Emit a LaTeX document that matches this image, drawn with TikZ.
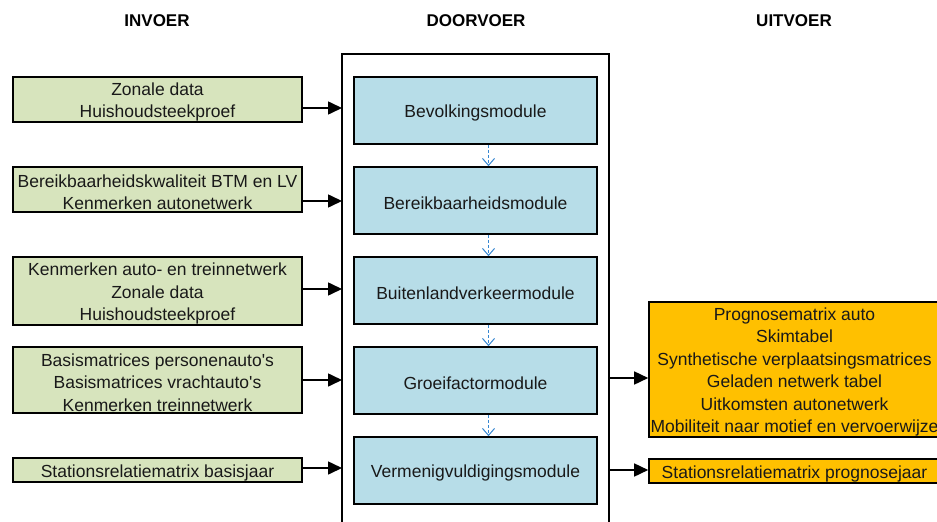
\documentclass[tikz,border=0pt]{standalone}
\usepackage{fontspec}
\setmainfont{Liberation Sans}
\usetikzlibrary{arrows.meta}
\definecolor{ingreen}{RGB}{215,228,189}
\definecolor{modblue}{RGB}{183,221,232}
\definecolor{outorange}{RGB}{255,192,0}
\definecolor{dashblue}{RGB}{55,135,210}
\newcommand{\firstline}{\rule{0pt}{17.8pt}}
\tikzset{
  txt/.style={font=\fontsize{17.5}{22.4}\selectfont, align=center, inner sep=0pt, text=black!90,
    execute at begin node={\firstline}},
  inbox/.style={txt, draw=black, line width=1.6pt, fill=ingreen, minimum width=289pt},
  modbox/.style={txt, draw=black, line width=1.6pt, fill=modblue, minimum width=243pt, minimum height=67pt},
  outbox/.style={txt, draw=black, line width=1.6pt, fill=outorange, minimum width=291pt},
  header/.style={font=\fontsize{17}{20}\selectfont\bfseries, inner sep=0pt},
  arr/.style={line width=1.6pt, -{Triangle[length=14pt,width=13pt]}},
  flow/.style={draw=dashblue, line width=1pt, dash pattern=on 3pt off 2pt, -{Straight Barb[length=7pt,width=12pt,line width=1pt]}},
  frame/.style={draw=black, line width=1.3pt}
}
\begin{document}
\begin{tikzpicture}[x=1pt,y=-1pt]
\useasboundingbox (0,0) rectangle (937,522);
\clip (0,0) rectangle (937,522);
\fill[white] (0,0) rectangle (937,522);

% headers
\node[header] (hin) at (157,21) {INVOER};
\node[header] (hdoor) at (476,21) {DOORVOER};
\node[header] (huit) at (794,21) {UITVOER};

% outer frame
\coordinate (ftl) at (342,54);
\coordinate (ftr) at (609,54);
\coordinate (fbl) at (342,530);
\coordinate (fbr) at (609,530);
\draw[frame] (fbl) -- (ftl) -- (ftr) -- (fbr);

% modules
\node[modbox] (m1) at (475.5,110.5) {Bevolkingsmodule};
\node[modbox] (m2) at (475.5,200.5) {Bereikbaarheidsmodule};
\node[modbox] (m3) at (475.5,290.5) {Buitenlandverkeermodule};
\node[modbox] (m4) at (475.5,380.5) {Groeifactormodule};
\node[modbox] (m5) at (475.5,470.5) {Vermenigvuldigingsmodule};

\foreach \a/\b in {m1/m2,m2/m3,m3/m4,m4/m5}
  \draw[flow] ([xshift=13pt]\a.south) -- ([xshift=13pt]\b.north);

% input boxes
\node[inbox, minimum height=45pt] (i1) at (157.5,99.5) {\firstline Zonale data\\Huishoudsteekproef};
\node[inbox, minimum height=45pt] (i2) at (157.5,189.5) {\firstline Bereikbaarheidskwaliteit BTM en LV\\Kenmerken autonetwerk};
\node[inbox, minimum height=68pt] (i3) at (157.5,291) {\firstline Kenmerken auto- en treinnetwerk\\Zonale data\\Huishoudsteekproef};
\node[inbox, minimum height=66pt] (i4) at (157.5,380) {\firstline Basismatrices personenauto\textquotesingle s\\Basismatrices vrachtauto\textquotesingle s\\Kenmerken treinnetwerk};
\node[inbox, minimum height=24pt] (i5) at (157.5,470) {Stationsrelatiematrix basisjaar};

\coordinate (e1) at (342,108);
\coordinate (e2) at (342,201);
\coordinate (e3) at (342,289);
\coordinate (e4) at (342,380);
\coordinate (e5) at (342,468);
\draw[arr] (i1.east |- e1) -- (e1);
\draw[arr] (i2.east |- e2) -- (e2);
\draw[arr] (i3.east |- e3) -- (e3);
\draw[arr] (i4.east |- e4) -- (e4);
\draw[arr] (i5.east |- e5) -- (e5);

% output boxes
\node[outbox, minimum height=135pt] (o1) at (794.5,369.5) {\firstline Prognosematrix auto\\Skimtabel\\Synthetische verplaatsingsmatrices\\Geladen netwerk tabel\\Uitkomsten autonetwerk\\Mobiliteit naar motief en vervoerwijze};
\node[outbox, minimum height=24pt] (o2) at (794.5,471) {Stationsrelatiematrix prognosejaar};

\coordinate (s1) at (609,378);
\coordinate (s2) at (609,470);
\draw[arr] (s1) -- (o1.west |- s1);
\draw[arr] (s2) -- (o2.west |- s2);
\end{tikzpicture}
\end{document}
